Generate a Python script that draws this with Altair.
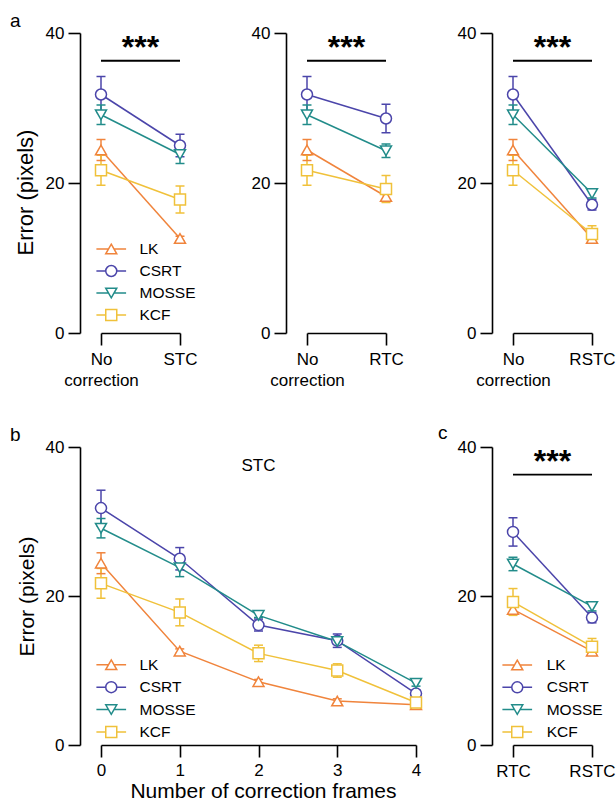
import altair as alt
import pandas as pd

FONT = "Liberation Sans"

# ---------------- data ----------------
methods = ["LK", "CSRT", "MOSSE", "KCF"]
colors = ["#F0843C", "#4B45AA", "#228C8A", "#F0C13A"]
marker_shapes = ["triangle-up", "circle", "triangle-down", "square"]
legend_shapes = [
    "M-2.7,0H-0.5M0.5,0H2.7M0,-0.866L1,0.866L-1,0.866Z",
    "M-2.7,0H-1M1,0H2.7M1,0A1,1 0 1,1 -1,0A1,1 0 1,1 1,0",
    "M-2.7,0H-0.5M0.5,0H2.7M0,0.866L1,-0.866L-1,-0.866Z",
    "M-2.7,0H-1M1,0H2.7M-1,-1H1V1H-1Z",
]
cap_shape = "M-1,0H1"

frames = [0, 1, 2, 3, 4]
stc_lk = [24.4, 12.6, 8.5, 5.9, 5.4]
stc_csrt = [31.8, 25.0, 16.1, 14.0, 6.9]
stc_mosse = [29.1, 23.8, 17.4, 13.9, 8.3]
stc_kcf = [21.7, 17.8, 12.3, 10.0, 5.7]
stc_lk_err = [1.4, 0.3, 0.3, 0.3, 0.3]
stc_csrt_err = [2.4, 1.5, 0.8, 0.9, 0.5]
stc_mosse_err = [1.3, 1.2, 0.3, 0.4, 0.4]
stc_kcf_err = [2.0, 1.8, 1.1, 0.9, 0.3]

rtc_mean = [18.2, 28.6, 24.3, 19.2]
rtc_err = [0.5, 1.9, 0.9, 1.8]
rstc_mean = [12.6, 17.1, 18.6, 13.2]
rstc_err = [0.4, 0.7, 0.6, 1.1]

cond_a1 = ["No correction", "STC"]
cond_a2 = ["No correction", "RTC"]
cond_a3 = ["No correction", "RSTC"]
cond_c = ["RTC", "RSTC"]
sig_level = 36.3
y_ticks = [0, 20, 40]

stc_means = [stc_lk, stc_csrt, stc_mosse, stc_kcf]
stc_errs = [stc_lk_err, stc_csrt_err, stc_mosse_err, stc_kcf_err]
no_corr_mean = [s[0] for s in stc_means]
no_corr_err = [s[0] for s in stc_errs]
stc1_mean = [s[1] for s in stc_means]
stc1_err = [s[1] for s in stc_errs]


def make_df(pairs):
    rows = []
    for cat, means, errs in pairs:
        for m, v, e in zip(methods, means, errs):
            rows.append({"cond": cat, "method": m, "mean": v, "lo": v - e, "hi": v + e})
    return pd.DataFrame(rows)


df_a1 = make_df([(cond_a1[0], no_corr_mean, no_corr_err), (cond_a1[1], stc1_mean, stc1_err)])
df_a2 = make_df([(cond_a2[0], no_corr_mean, no_corr_err), (cond_a2[1], rtc_mean, rtc_err)])
df_a3 = make_df([(cond_a3[0], no_corr_mean, no_corr_err), (cond_a3[1], rstc_mean, rstc_err)])
df_c = make_df([(cond_c[0], rtc_mean, rtc_err), (cond_c[1], rstc_mean, rstc_err)])
b_rows = []
for m, ms, es in zip(methods, stc_means, stc_errs):
    for f, v, e in zip(frames, ms, es):
        b_rows.append({"cond": f, "method": m, "mean": v, "lo": v - e, "hi": v + e})
df_b = pd.DataFrame(b_rows)
one = pd.DataFrame({"k": [0]})

ysc = alt.Scale(domain=[0, 40], nice=False, zero=False)


def y_axis(title=None, title_size=21, title_y=None):
    kw = dict(values=y_ticks, offset=21, labelPadding=4, tickSize=12,
              labelFontSize=17, titleFontSize=title_size, titlePadding=8, title=title)
    if title_y is not None:
        kw["titleY"] = title_y
    return alt.Axis(**kw)


def panel(df, xtype, xscale, xaxis, yaxis, w, h, legend_cfg=None,
          sig_cats=None, letter=None, subtitle=None):
    base = alt.Chart(df)
    col = alt.Color("method:N", scale=alt.Scale(domain=methods, range=colors), legend=None)
    shp = alt.Shape("method:N", scale=alt.Scale(domain=methods, range=marker_shapes), legend=None)
    X = alt.X("cond", type=xtype, scale=xscale, axis=xaxis)

    def Y(field):
        return alt.Y(field, type="quantitative", scale=ysc, axis=yaxis)

    lines = base.mark_line(strokeWidth=1.5).encode(x=X, y=Y("mean"), color=col)
    errs = base.mark_rule(strokeWidth=1.5).encode(x=X, y=Y("lo"), y2="hi:Q", color=col)
    caps = base.transform_fold(["lo", "hi"], as_=["end", "val"]).mark_point(
        shape=cap_shape, size=81, strokeWidth=1.5, filled=False, opacity=1).encode(
        x=X, y=Y("val"), color=col)
    pts = base.mark_point(filled=False, fill="white", size=121, strokeWidth=1.5, opacity=1).encode(
        x=X, y=Y("mean"), color=col, shape=shp)
    layers = [lines, errs, caps, pts]

    if legend_cfg is not None:
        lx, ly, loff, rp = legend_cfg
        leg = alt.Legend(orient="none", legendX=lx, legendY=ly, direction="vertical",
                         title=None, labelFont=FONT, labelFontSize=15.5, labelColor="black",
                         labelOffset=loff, symbolSize=121, symbolStrokeWidth=1.5,
                         rowPadding=rp, padding=0)
        leg_layer = alt.Chart(df).transform_filter("false").mark_point(
            filled=False, size=121, strokeWidth=1.5, opacity=1).encode(
            color=alt.Color("method:N", scale=alt.Scale(domain=methods, range=colors), legend=leg),
            shape=alt.Shape("method:N", scale=alt.Scale(domain=methods, range=legend_shapes), legend=leg))
        layers.append(leg_layer)

    if sig_cats is not None:
        sig_df = pd.DataFrame({"cond": sig_cats, "level": [sig_level] * len(sig_cats)})
        rule = alt.Chart(sig_df).mark_line(strokeWidth=1.8, color="black").encode(
            x=X, y=Y("level"))
        ysig = alt.Y(datum=sig_level, type="quantitative", scale=ysc, axis=yaxis)
        stars = alt.Chart(one).mark_text(text="***", fontSize=32, fontWeight="bold", font=FONT,
                                         align="center", baseline="alphabetic", dy=-3,
                                         color="black").encode(x=alt.value(w / 2), y=ysig)
        layers += [rule, stars]

    if letter is not None:
        t, lx, ly = letter
        layers.append(alt.Chart(one).mark_text(text=t, fontSize=19, font=FONT, align="left",
                                               baseline="alphabetic", color="black").encode(
            x=alt.value(lx), y=alt.value(ly)))
    if subtitle is not None:
        t, sx, sy = subtitle
        layers.append(alt.Chart(one).mark_text(text=t, fontSize=17, font=FONT, align="center",
                                               baseline="alphabetic", color="black").encode(
            x=alt.value(sx), y=alt.value(sy)))

    return alt.layer(*layers).resolve_scale(color="independent", shape="independent").properties(
        width=w, height=h)


def cat_axis():
    return alt.Axis(title=None, labelAngle=0, labelExpr="split(datum.label, ' ')",
                    labelLineHeight=21, labelPadding=6, tickSize=12, labelFontSize=17)


def cat_scale(cats):
    return alt.Scale(type="point", domain=cats, padding=0)


a1 = panel(df_a1, "nominal", cat_scale(cond_a1), cat_axis(),
           y_axis("Error (pixels)", 22, 159), 79, 300,
           legend_cfg=(2.5, 208.25, 20.5, 4.0), sig_cats=cond_a1, letter=("a", -91, -6))
a2 = panel(df_a2, "nominal", cat_scale(cond_a2), cat_axis(), y_axis(), 79, 300,
           sig_cats=cond_a2)
a3 = panel(df_a3, "nominal", cat_scale(cond_a3), cat_axis(), y_axis(), 79, 300,
           sig_cats=cond_a3)

b_axis = alt.Axis(values=frames, format="d", tickSize=12, labelPadding=5, labelFlush=False,
                  title="Number of correction frames", titleFontSize=21, titlePadding=2,
                  titleX=162, labelFontSize=17)
b = panel(df_b, "quantitative", alt.Scale(domain=[0, 4], nice=False, zero=False), b_axis,
          y_axis("Error (pixels)", 21), 315, 298,
          legend_cfg=(2.5, 210.0, 20.5, 4.4), letter=("b", -91, -6), subtitle=("STC", 157.5, 24))
c = panel(df_c, "nominal", cat_scale(cond_c), cat_axis(), y_axis(), 79, 298,
          legend_cfg=(-3.5, 210.25, 21.7, 4.3), sig_cats=cond_c, letter=("c", -75, -8))

row_a = alt.hconcat(a1, a2, a3, spacing=127, bounds="flush")
row_b = alt.hconcat(b, c, spacing=97, bounds="flush")

chart = alt.vconcat(row_a, row_b, spacing=36).resolve_scale(
    color="independent", shape="independent").properties(
    padding={"left": 10, "top": 12, "right": 0, "bottom": 0}
).configure(font=FONT).configure_view(stroke=None).configure_axis(
    domainColor="black", tickColor="black", labelColor="black", titleColor="black",
    domainWidth=1.6, tickWidth=1.6, grid=False, labelFont=FONT, titleFont=FONT,
    titleFontWeight="normal"
)

chart.save("out.html", embed_options={"renderer": "svg", "actions": False})
